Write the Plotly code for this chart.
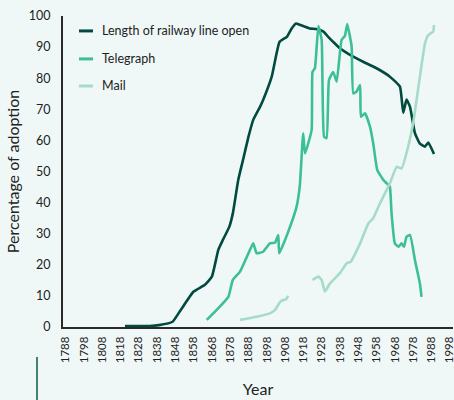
import plotly.graph_objects as go

# ---------------- data ----------------
rail_years = [1820.5, 1834, 1839, 1846.5, 1851, 1858, 1864, 1868, 1871.5, 1874, 1877.5, 1879.5,
              1882.4, 1885, 1888, 1890.6, 1894.3, 1896, 1900.7, 1905, 1909, 1911.6, 1914, 1916,
              1921.6, 1925, 1929, 1931.6, 1934.3, 1938, 1943.5, 1950.7, 1958, 1965.3, 1970.8,
              1972.6, 1974.4, 1976.3, 1979, 1981.7, 1984.5, 1986.3, 1989.4]
rail_vals = [0.3, 0.3, 0.6, 1.7, 5.5, 11.4, 13.5, 16.2, 24.8, 28, 32.2, 36.7,
             47.3, 53.7, 61.2, 66.6, 70.8, 73, 80.5, 91.7, 93.3, 96, 97.6, 97.2,
             96, 95.8, 95, 93.3, 91.7, 89.6, 87.5, 85.3, 83.2, 80.5, 77.3,
             68.9, 73.1, 70.8, 62.3, 59, 58, 59.3, 55.6]

tele_years = [1865.2, 1870.6, 1877, 1879.4, 1883.4, 1888.8, 1890.6, 1892.5, 1896, 1899.7, 1902.5,
              1904.3, 1904.8, 1909.7, 1914.3, 1916.1, 1917.9, 1918.9, 1922.5, 1923, 1924.3, 1926.2,
              1928, 1929.3, 1930.7, 1932, 1934.3, 1936.2, 1938.9, 1940.7, 1942, 1943.5, 1944.4,
              1945.3, 1947.1, 1949, 1949.5, 1951.7, 1954.4, 1956.2, 1958.4, 1961.7, 1964.4,
              1965.3, 1966.2, 1968, 1970, 1971.7, 1973, 1974.4, 1976.3, 1979, 1981.7, 1982.6]
tele_vals = [2.3, 5.5, 9.7, 15.1, 17.8, 24.8, 26.9, 23.7, 24.2, 26.9, 27.1,
             29.6, 23.7, 30.6, 38.7, 45.7, 62.3, 55.8, 63.3, 82, 83.2, 96.8,
             92.3, 61.2, 60.7, 79.4, 82, 78.9, 92.3, 93.6, 97.4, 93.3, 90.1,
             75.1, 75.7, 77.8, 67.6, 68.7, 64.4, 59, 50.5, 47.3, 45.7,
             45.1, 36.6, 26.9, 25.8, 26.9, 25.8, 29, 29.6, 21.5, 14, 9.7]

mail_years = [1883.4, 1892.5, 1899.7, 1902.5, 1905.3, 1907, 1908.5, 1909.7, None,
              1923, 1926.2, 1928, 1929.8, 1932.5, 1938, 1941.7, 1943.9, 1949, 1953.5, 1956.2,
              1959.9, 1965.3, 1969, 1971.7, 1975.3, 1978, 1981.7, 1984.5, 1986.3, 1989, 1989.4]
mail_vals = [2.3, 3.3, 4.4, 5.5, 8.1, 8.7, 8.9, 10, None,
             15.1, 16.2, 15.1, 11.4, 14, 17.3, 20.5, 21, 26.9, 33.3, 35,
             39.8, 46.2, 51.5, 51, 58, 65.5, 80.5, 91.2, 93.9, 95, 97.1]

series_names = ["Length of railway line open", "Telegraph", "Mail"]
series_colors = ["#004a3f", "#3dbf96", "#a5dbc7"]
x_ticks = list(range(1788, 1999, 10))
y_ticks = list(range(0, 101, 10))

BG = "#f0f8f7"
FONT = "Lato, 'Open Sans', sans-serif"

fig = go.Figure()
for name, xs, ys, col in zip(series_names,
                             [rail_years, tele_years, mail_years],
                             [rail_vals, tele_vals, mail_vals],
                             series_colors):
    fig.add_trace(go.Scatter(x=xs, y=ys, mode="lines", name=name,
                             line=dict(color=col, width=2.6, shape="spline", smoothing=0.4),
                             connectgaps=False, showlegend=False))

# manual legend
leg_y = [0.952, 0.862, 0.775]
for name, col, yy in zip(series_names, series_colors, leg_y):
    fig.add_shape(type="line", xref="paper", yref="paper", x0=0.041, x1=0.077, y0=yy, y1=yy,
                  line=dict(color=col, width=3))
    fig.add_annotation(xref="paper", yref="paper", x=0.095, y=yy, text=name, showarrow=False,
                       xanchor="left", yanchor="middle",
                       font=dict(family=FONT, size=12.5, color="#222222"))

# small decorative line bottom-left
fig.add_shape(type="line", xref="paper", yref="paper", x0=-0.0667, x1=-0.0667, y0=-0.0965, y1=-0.24,
              line=dict(color="#0a5a4a", width=1.5))

fig.update_layout(
    width=454, height=400,
    margin=dict(l=63, r=1, t=16, b=73, autoexpand=False),
    paper_bgcolor=BG, plot_bgcolor=BG,
    font=dict(family=FONT, color="#222222"),
    xaxis=dict(range=[1786.6, 1999.8], tickvals=x_ticks, ticktext=[str(t) for t in x_ticks],
               tickangle=-90, showgrid=False, zeroline=False, showline=True, automargin=True,
               ticklabeloverflow="allow",
               linecolor="#2a2a2a", linewidth=2, ticks="outside", ticklen=3, tickcolor=BG,
               tickfont=dict(size=11.5, color="#222222"),
               title=dict(text="Year", font=dict(size=16, color="#222222"), standoff=22)),
    yaxis=dict(range=[0, 100], tickvals=y_ticks, showgrid=False, zeroline=False, showline=True,
               automargin=True,
               linecolor="#2a2a2a", linewidth=2, ticks="outside", ticklen=8, tickcolor=BG,
               tickfont=dict(size=12.5, color="#222222"),
               title=dict(text="Percentage of adoption", font=dict(size=16, color="#222222"),
                          standoff=5)),
)

fig.write_html("out.html", config={"displayModeBar": False},
               post_script="document.body.style.margin='0';")
